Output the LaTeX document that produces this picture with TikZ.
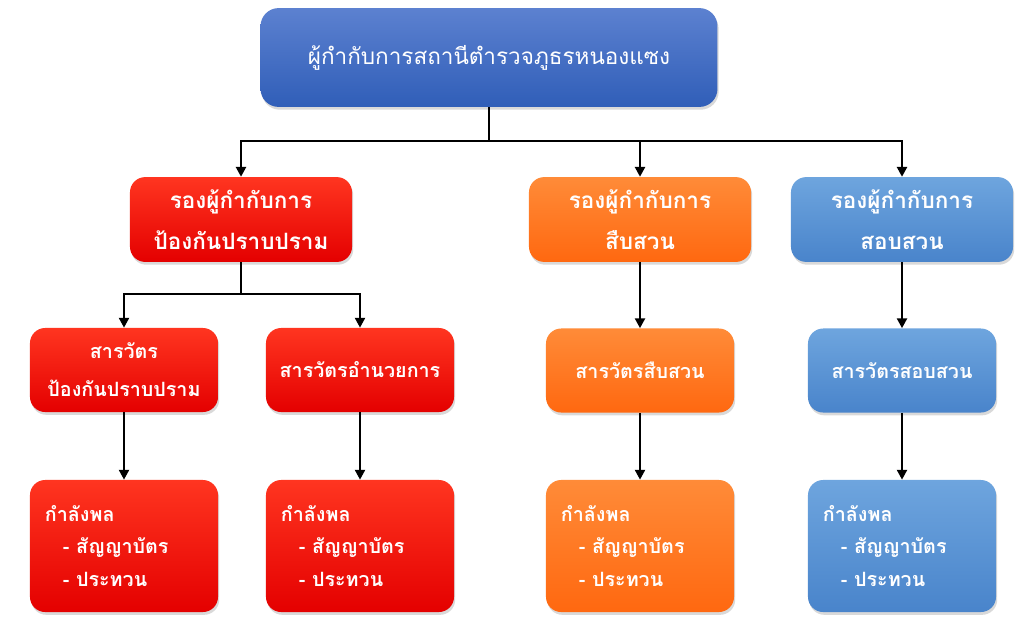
\documentclass[tikz,border=0pt]{standalone}
\usepackage{fontspec}
\newfontfamily\thaifont[Script=Thai]{Loma}
\usepackage{tikz}
\usetikzlibrary{arrows.meta,shadows,positioning}
\definecolor{chieftop}{HTML}{5C81D0}
\definecolor{chiefbot}{HTML}{305EB8}
\definecolor{redtop}{HTML}{FF3520}
\definecolor{redbot}{HTML}{E40000}
\definecolor{orangetop}{HTML}{FF8B38}
\definecolor{orangebot}{HTML}{FF6810}
\definecolor{bluetop}{HTML}{6EA5DE}
\definecolor{bluebot}{HTML}{4984CB}
\tikzset{%
    box/.style={%
        rectangle, rounded corners=0.38cm, align=center, text=white, draw=none,
        drop shadow={opacity=0.3, shadow xshift=0.03cm, shadow yshift=-0.07cm}
    },
    chief_block/.style={%
        box, minimum width=11.42cm, minimum height=2.47cm, top color=chieftop, bottom color=chiefbot,
        rounded corners=0.45cm, font=\thaifont\fontsize{16}{28}\selectfont
    },
    deputy_block/.style={%
        box, minimum width=5.55cm, minimum height=2.12cm, font=\thaifont\bfseries\fontsize{16}{29}\selectfont
    },
    inspector_block/.style={%
        box, minimum width=4.7cm, minimum height=2.1cm, font=\thaifont\bfseries\fontsize{14}{27}\selectfont
    },
    staff_block/.style={%
        box, minimum width=4.7cm, minimum height=3.3cm, text width=3.95cm, inner xsep=0.375cm,
        align=left, font=\thaifont\bfseries\fontsize{14}{23}\selectfont
    },
    red_fill/.style={top color=redtop, bottom color=redbot},
    orange_fill/.style={top color=orangetop, bottom color=orangebot},
    blue_fill/.style={top color=bluetop, bottom color=bluebot},
    conn/.style={%
        line width=2pt, -{Triangle[length=7pt,width=7pt]}
    },
    conn_line/.style={%
        line width=2pt
    },
}

\begin{document}
\begin{tikzpicture}[x=0.025cm, y=-0.025cm]
    \useasboundingbox (0,0) rectangle (1024,633);
    \node[chief_block] (chief) at (489,57.5) {ผู้กำกับการสถานีตำรวจภูธรหนองแซง};

    \node[deputy_block, red_fill] (dep_red) at (241,219.5) {รองผู้กำกับการ\\ป้องกันปราบปราม};
    \node[deputy_block, orange_fill] (dep_orange) at (640,219.5) {รองผู้กำกับการ\\สืบสวน};
    \node[deputy_block, blue_fill] (dep_blue) at (902,219.5) {รองผู้กำกับการ\\สอบสวน};

    \node[inspector_block, red_fill] (sv_prevent) at (124,370) {สารวัตร\\ป้องกันปราบปราม};
    \node[inspector_block, red_fill] (sv_admin) at (360,370) {สารวัตรอำนวยการ};
    \node[inspector_block, orange_fill] (sv_invest) at (640,370.5) {สารวัตรสืบสวน};
    \node[inspector_block, blue_fill] (sv_inquiry) at (902,370.5) {สารวัตรสอบสวน};

    \node[staff_block, red_fill] (staff_prevent) at (124,546) {กำลังพล\\\hspace*{0.45cm}- สัญญาบัตร\\\hspace*{0.45cm}- ประทวน};
    \node[staff_block, red_fill] (staff_admin) at (360,546) {กำลังพล\\\hspace*{0.45cm}- สัญญาบัตร\\\hspace*{0.45cm}- ประทวน};
    \node[staff_block, orange_fill] (staff_invest) at (640,546) {กำลังพล\\\hspace*{0.45cm}- สัญญาบัตร\\\hspace*{0.45cm}- ประทวน};
    \node[staff_block, blue_fill] (staff_inquiry) at (902,546) {กำลังพล\\\hspace*{0.45cm}- สัญญาบัตร\\\hspace*{0.45cm}- ประทวน};

    \coordinate (bus) at (489,141);
    \coordinate (red_bus) at (241,294);
    \draw[conn_line] (chief) -- (bus);
    \draw[conn] (bus) -| (dep_red);
    \draw[conn] (bus) -| (dep_orange);
    \draw[conn] (bus) -| (dep_blue);

    \draw[conn_line] (dep_red) -- (red_bus);
    \draw[conn] (red_bus) -| (sv_prevent);
    \draw[conn] (red_bus) -| (sv_admin);
    \draw[conn] (dep_orange) -- (sv_invest);
    \draw[conn] (dep_blue) -- (sv_inquiry);

    \draw[conn] (sv_prevent) -- (staff_prevent);
    \draw[conn] (sv_admin) -- (staff_admin);
    \draw[conn] (sv_invest) -- (staff_invest);
    \draw[conn] (sv_inquiry) -- (staff_inquiry);
\end{tikzpicture}
\end{document}
